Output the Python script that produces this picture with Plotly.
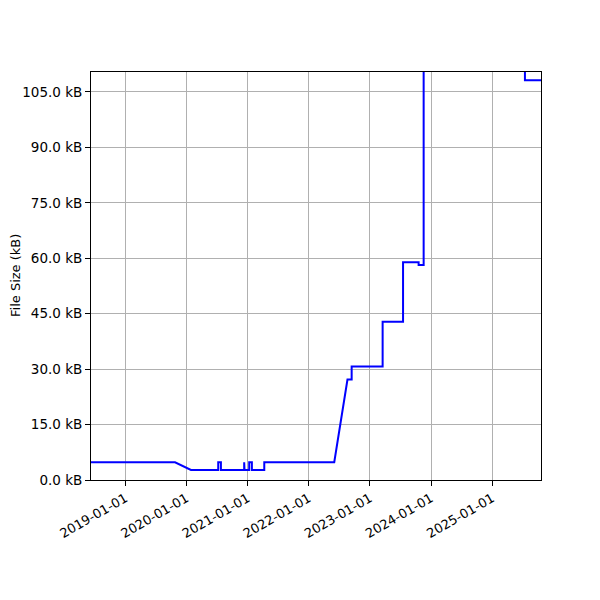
import plotly.graph_objects as go

# file size history (kB)
DATES = [
    "2018-06-01", "2019-10-25", "2020-01-28",
    "2020-07-09", "2020-07-09", "2020-07-25", "2020-07-25",
    "2020-12-11", "2020-12-11", "2020-12-13",
    "2021-01-10", "2021-01-10", "2021-01-26", "2021-01-26",
    "2021-04-10", "2021-04-10", "2021-04-12", "2021-04-12",
    "2022-06-02", "2022-08-20", "2022-09-14", "2022-09-14",
    "2023-03-18", "2023-03-18", "2023-07-18", "2023-07-18",
    "2023-10-19", "2023-10-19", "2023-11-18", "2023-11-18",
    "2025-07-15", "2025-07-15", "2025-11-01",
]
SIZES_KB = [
    4.8, 4.8, 2.7,
    2.7, 4.8, 4.8, 2.7,
    2.7, 4.8, 2.7,
    2.7, 4.8, 4.8, 2.7,
    2.7, 4.8, 4.8, 4.8,
    4.8, 27.2, 27.2, 30.7,
    30.7, 42.8, 42.8, 58.9,
    58.9, 58.2, 58.2, 450.0,
    450.0, 108.2, 108.2,
]

X_RANGE = ["2018-06-10", "2025-10-19"]
Y_RANGE = [0, 110.4]

FONT = "DejaVu Sans"

fig = go.Figure()
fig.add_trace(go.Scatter(x=DATES, y=SIZES_KB, mode="lines",
                         line=dict(color="#0000ff", width=2), showlegend=False))

# page body adds ~8px offset, margins compensate
fig.update_layout(
    width=600, height=600,
    margin=dict(l=83, r=67, t=64, b=128),
    paper_bgcolor="white", plot_bgcolor="white",
    font=dict(family=FONT, size=13, color="black"),
)

fig.update_xaxes(
    range=X_RANGE, tickformat="%Y-%m-%d", dtick="M12", tick0="2019-01-01",
    tickangle=-30, ticks="outside", ticklen=5, tickcolor="black",
    showline=True, linecolor="black", linewidth=1, mirror=True,
    showgrid=True, gridcolor="#b0b0b0", gridwidth=1, zeroline=False,
    automargin=False, tickfont=dict(size=13),
)
fig.update_yaxes(
    range=Y_RANGE, dtick=15, tick0=0, tickformat=".1f", ticksuffix=" kB",
    ticks="outside", ticklen=5, tickcolor="black",
    showline=True, linecolor="black", linewidth=1, mirror=True,
    showgrid=True, gridcolor="#b0b0b0", gridwidth=1, zeroline=False,
    automargin=False, tickfont=dict(size=13.5),
)

# y-axis title placed by hand so the margins stay fixed
fig.add_annotation(text="File Size (kB)", xref="paper", yref="paper",
                   x=-76 / 450, y=0.5, xanchor="center", yanchor="middle",
                   textangle=-90, showarrow=False, font=dict(size=13))

fig.write_html("out.html")
